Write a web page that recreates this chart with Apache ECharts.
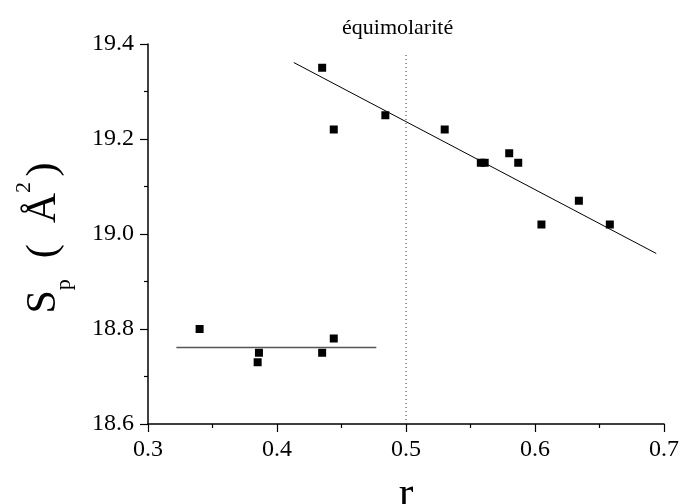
<!DOCTYPE html>
<html>
<head>
<meta charset="utf-8">
<script src="https://cdn.jsdelivr.net/npm/echarts@6/dist/echarts.min.js"></script>
<style>html,body{margin:0;padding:0;background:#fff}#c{width:681px;height:504px}</style>
</head>
<body>
<div id="c"></div>
<script>
// Data
var xTicks = [0.3, 0.4, 0.5, 0.6, 0.7];
var yTicks = [18.6, 18.8, 19.0, 19.2, 19.4];
var lowerPoints = [[0.340, 18.80], [0.385, 18.73], [0.386, 18.75], [0.435, 18.75], [0.444, 18.78]];
var upperPoints = [[0.435, 19.35], [0.444, 19.22], [0.484, 19.25], [0.530, 19.22], [0.558, 19.15],
                   [0.561, 19.15], [0.580, 19.17], [0.587, 19.15], [0.605, 19.02], [0.634, 19.07], [0.658, 19.02]];
var upperFit = [[0.413, 19.361], [0.694, 18.959]];
var lowerFit = [[0.322, 18.761], [0.477, 18.761]];
var equimolarLine = [[0.5, 18.6], [0.5, 19.38]];
var annotation = 'équimolarité';

var serif = "'Liberation Serif', 'Times New Roman', serif";
var chart = echarts.init(document.getElementById('c'), null, {renderer: 'canvas'});
chart.setOption({
  animation: false,
  backgroundColor: '#fff',
  title: {
    text: annotation,
    left: 337, top: 12,
    textStyle: {fontFamily: serif, fontSize: 22, fontWeight: 'normal', color: '#000'}
  },
  grid: {left: 148, right: 17, top: 44, bottom: 80, containLabel: false, outerBoundsMode: 'none'},
  xAxis: {
    type: 'value', min: xTicks[0], max: xTicks[xTicks.length - 1], interval: 0.1,
    name: 'r', nameLocation: 'middle', nameGap: 49,
    nameTextStyle: {fontFamily: serif, fontSize: 44, color: '#000'},
    axisLine: {show: true, onZero: false, lineStyle: {color: '#000', width: 1.5}},
    axisTick: {show: true, inside: false, length: 8, lineStyle: {color: '#000', width: 1.2}},
    minorTick: {show: true, splitNumber: 2, length: 4, lineStyle: {color: '#000', width: 1.2}},
    splitLine: {show: false},
    axisLabel: {fontFamily: serif, fontSize: 24, color: '#000', margin: 14,
      formatter: function (v) { return v.toFixed(1); }}
  },
  yAxis: {
    type: 'value', min: yTicks[0], max: yTicks[yTicks.length - 1], interval: 0.2,
    name: '{m|S}{sub|p}{m|  (  Å}{sup|2 }{m|)}', nameLocation: 'middle', nameGap: 73, nameRotate: 90,
    nameTextStyle: {
      fontFamily: serif, color: '#000', padding: [0, 8, 0, 0],
      rich: {
        m: {fontFamily: serif, fontSize: 42, lineHeight: 62, color: '#000', verticalAlign: 'middle'},
        sub: {fontFamily: serif, fontSize: 22, lineHeight: 62, color: '#000', verticalAlign: 'bottom'},
        sup: {fontFamily: serif, fontSize: 22, lineHeight: 62, color: '#000', verticalAlign: 'top'}
      }
    },
    axisLine: {show: true, onZero: false, lineStyle: {color: '#000', width: 1.5}},
    axisTick: {show: true, inside: false, length: 8, lineStyle: {color: '#000', width: 1.2}},
    minorTick: {show: true, splitNumber: 2, length: 4, lineStyle: {color: '#000', width: 1.2}},
    splitLine: {show: false},
    axisLabel: {fontFamily: serif, fontSize: 24, color: '#000', margin: 14,
      formatter: function (v) { return v.toFixed(1); }}
  },
  series: [
    {type: 'line', data: equimolarLine, symbol: 'none', silent: true,
     lineStyle: {color: '#333', width: 1, type: [1, 3]}},
    {type: 'line', data: upperFit, symbol: 'none', silent: true,
     lineStyle: {color: '#000', width: 1}},
    {type: 'line', data: lowerFit, symbol: 'none', silent: true,
     lineStyle: {color: '#555', width: 1.5}},
    {type: 'scatter', data: lowerPoints, symbol: 'rect', symbolSize: 8,
     itemStyle: {color: '#000', opacity: 1}},
    {type: 'scatter', data: upperPoints, symbol: 'rect', symbolSize: 8,
     itemStyle: {color: '#000', opacity: 1}}
  ]
});
</script>
</body>
</html>
